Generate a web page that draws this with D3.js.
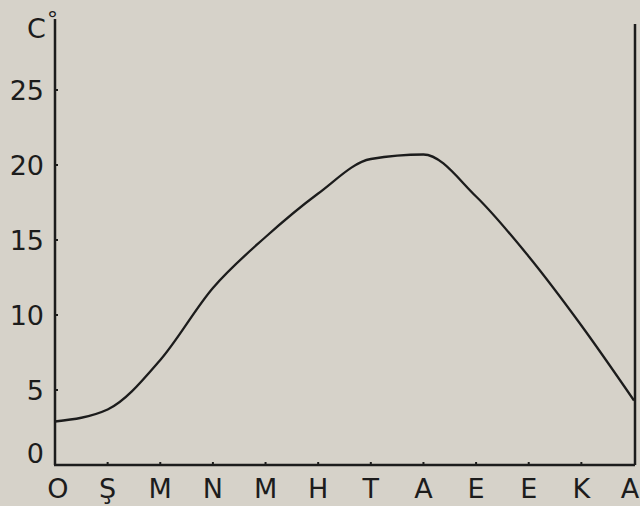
<!DOCTYPE html>
<html>
<head>
<meta charset="utf-8">
<script src="https://cdn.jsdelivr.net/npm/d3@7"></script>
<style>
  html, body { margin: 0; padding: 0; background: #d6d2c9; }
  svg { display: block; }
  text { font-family: "DejaVu Sans", sans-serif; fill: #1c1c1c; }
</style>
</head>
<body>
<svg id="chart" width="640" height="506"></svg>
<script>
  'use strict';

  var months = ['O', 'Ş', 'M', 'N', 'M', 'H', 'T', 'A', 'E', 'E', 'K', 'A'];
  var temps = [2.9, 3.7, 7.0, 11.8, 15.2, 18.1, 20.4, 20.7, 17.9, 13.9, 9.3, 4.3];
  var yTicks = [0, 5, 10, 15, 20, 25];

  var $svg = d3.select('#chart');
  var ink = '#1c1c1c';

  var xScale = d3.scaleLinear().domain([0, months.length - 1]).range([55, 634]);
  var yScale = d3.scaleLinear().domain([0, 25]).range([465, 90]);

  // axes frame
  $svg.append('line')
    .attr('x1', xScale(0)).attr('x2', xScale(0))
    .attr('y1', 19).attr('y2', yScale(0))
    .attr('stroke', ink).attr('stroke-width', 2.5);

  $svg.append('line')
    .attr('x1', xScale(0) - 1).attr('x2', xScale(11) + 1)
    .attr('y1', yScale(0)).attr('y2', yScale(0))
    .attr('stroke', ink).attr('stroke-width', 2.5);

  $svg.append('line')
    .attr('x1', xScale(11) + 1).attr('x2', xScale(11) + 1)
    .attr('y1', 24).attr('y2', yScale(0))
    .attr('stroke', ink).attr('stroke-width', 2.5);

  // y ticks and labels
  $svg.selectAll('line.ytick')
    .data(yTicks.slice(1))
    .enter()
    .append('line')
    .attr('class', 'ytick')
    .attr('x1', xScale(0)).attr('x2', xScale(0) + 3)
    .attr('y1', function(d) { return yScale(d); })
    .attr('y2', function(d) { return yScale(d); })
    .attr('stroke', ink).attr('stroke-width', 2);

  $svg.selectAll('text.ylabel')
    .data(yTicks)
    .enter()
    .append('text')
    .attr('class', 'ylabel')
    .attr('x', 44)
    .attr('y', function(d) { return d === 0 ? yScale(d) - 2 : yScale(d) + 10; })
    .attr('text-anchor', 'end')
    .attr('font-size', 27)
    .text(function(d) { return d; });

  // unit label
  $svg.append('text')
    .attr('x', 27).attr('y', 38)
    .attr('font-size', 27)
    .text('C');
  $svg.append('text')
    .attr('x', 47).attr('y', 27)
    .attr('font-size', 22)
    .text('°');

  // x ticks and labels
  $svg.selectAll('line.xtick')
    .data(months.slice(1, -1))
    .enter()
    .append('line')
    .attr('class', 'xtick')
    .attr('x1', function(d, i) { return xScale(i + 1); })
    .attr('x2', function(d, i) { return xScale(i + 1); })
    .attr('y1', yScale(0)).attr('y2', yScale(0) - 3)
    .attr('stroke', ink).attr('stroke-width', 2);

  $svg.selectAll('text.month')
    .data(months)
    .enter()
    .append('text')
    .attr('class', 'month')
    .attr('x', function(d, i) {
      if (i === 0) return xScale(i) + 3;
      if (i === months.length - 1) return xScale(i) - 4;
      return xScale(i);
    })
    .attr('y', 498)
    .attr('text-anchor', 'middle')
    .attr('font-size', 27)
    .text(function(d) { return d; });

  // temperature curve
  var line = d3.line()
    .x(function(d, i) { return xScale(i); })
    .y(function(d) { return yScale(d); })
    .curve(d3.curveMonotoneX);

  $svg.append('path')
    .datum(temps)
    .attr('d', line)
    .attr('fill', 'none')
    .attr('stroke', ink)
    .attr('stroke-width', 2.3)
    .attr('stroke-linejoin', 'round');
</script>
</body>
</html>
